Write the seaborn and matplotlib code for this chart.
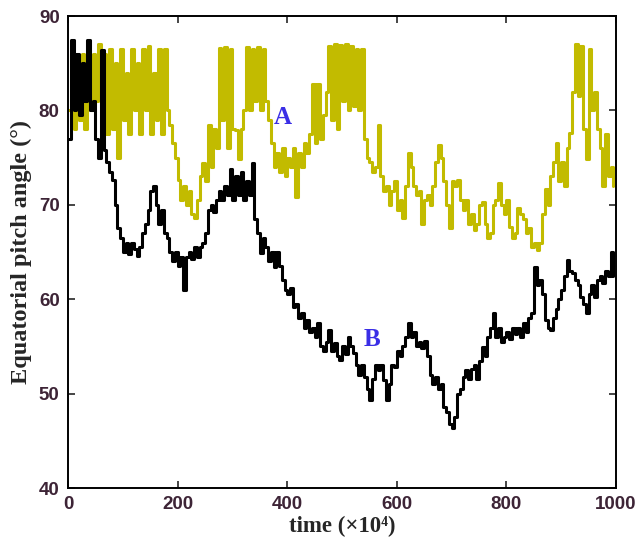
import numpy as np
import pandas as pd
import matplotlib
matplotlib.use("Agg")
import matplotlib.pyplot as plt
import seaborn as sns

# time axis (x10^4), step 5
time = list(range(0, 1000, 5))

# Series A (yellow)
series_a = [
    80, 86, 78, 85, 79, 86, 78, 84, 80,            # 0-40
    86, 81, 87, 82,                                # 45-60
    86, 77.5, 86.5, 78, 85, 75,                    # 65-90
    86.5, 79, 84, 77.5, 86.5, 80, 85, 77.5,        # 95-130
    86.5, 80, 86.8, 77.5, 84, 79, 86.5, 77.5, 86.5, 80,  # 135-180
    78.5, 76.5, 75,                                # 185-195
    72.6, 70.5, 72, 70, 71.5, 69, 68.6, 70.5, 73, 74.4,  # 200-245
    72.5, 78.5, 74, 78, 76,                        # 250-270
    86.6, 79, 86.7, 76, 86.5, 78, 77.9, 74.8, 78, 80,   # 275-320
    86.7, 80, 86.5, 81, 86.7, 80, 86.5, 81, 79, 76.5,   # 325-370
    74, 75.5, 73.5, 76, 73, 75, 74, 76, 70.8, 75.5,     # 375-420
    74, 76.5, 75.5, 77.5, 82.8, 76.5, 82.8, 77, 79.5, 82,  # 425-470
    86.8, 79, 87, 78, 86.9, 81, 87, 80, 86.8, 80.5, 86.5, 80, 86.5,  # 475-535
    77, 75, 74.5, 73.5, 74, 78.5, 73, 71.5, 72, 70,     # 540-585
    71.5, 72.5, 69.5, 70.5, 68.6, 72, 75.5, 74, 72, 71, # 590-635
    71.5, 68, 70.5, 71, 70, 72, 74.5, 76.3, 75, 72.5,   # 640-685
    70, 67.5, 72.5, 72, 72.6, 70.5, 69.5, 70.5, 68, 69, # 690-735
    67.3, 68, 70, 70.3, 68, 66.5, 67, 70, 70.5, 72.3,   # 740-785
    70, 69, 70.5, 67.6, 66.5, 67, 69.7, 69, 68.5, 67,   # 790-835
    67.5, 65.5, 66, 65.2, 66, 69, 71.7, 70, 73, 74.5,   # 840-885
    76.5, 72.5, 74.5, 72, 76, 77.6, 82, 87, 81.5, 86.8, # 890-935
    78, 74.8, 86.5, 80, 82, 78, 76, 72, 77.5, 73,       # 940-985
    74, 72,                                             # 990-995
]

# Series B (black)
series_b = [
    77, 87.5, 80, 86, 79.5, 85, 81, 87.5, 80, 81,       # 0-45
    77, 75, 86.4, 75.8, 74.5, 73.5, 72.6, 70, 67.5, 66.5,  # 50-95
    65, 66, 64.8, 66, 65.3, 64.6, 65.5, 67, 68, 69.5,   # 100-145
    71.5, 72, 70, 68, 69.5, 67, 66.5, 65, 64, 65,       # 150-195
    63.5, 64.5, 61.0, 64.5, 65, 64.3, 65.5, 64.5, 65.5, 66,  # 200-245
    67, 69.5, 70, 69.2, 70.5, 71.5, 70.5, 72, 71, 73.8, # 250-295
    70.5, 73, 71, 73.5, 70.5, 72.5, 71, 74.4, 68.5, 67, # 300-345
    64.9, 66.5, 65.5, 64, 65, 63.4, 65, 63.5, 62, 61,   # 350-395
    60.5, 61.2, 59.2, 59.5, 58, 58.5, 57, 57.8, 56.5, 57,  # 400-445
    56, 57.5, 55, 54.5, 55.5, 56.7, 54.5, 55.4, 54, 53.6,  # 450-495
    55, 54.2, 56, 55, 54.3, 53, 52, 53, 51.8, 50.5,     # 500-545
    49.3, 51.5, 53, 52.5, 53, 51.4, 49.3, 51, 53, 52.8, # 550-595
    54.5, 54, 55, 56, 57.5, 56, 56.5, 55, 55.5, 54.8,   # 600-645
    55.6, 54, 52, 51, 51.8, 50.5, 51, 48.6, 48, 46.8,   # 650-695
    46.4, 47.5, 50, 50.5, 51.8, 52.5, 51.5, 52.6, 53, 51.5,  # 700-745
    53.5, 54.9, 54, 56, 57, 58.5, 56, 57, 55.5, 56,     # 750-795
    56.5, 55.8, 57, 56.3, 57, 56, 57.5, 56.5, 58, 58.5, # 800-845
    63.4, 61.5, 62, 60.5, 57.8, 57, 56.7, 58, 59, 60,   # 850-895
    61, 62.5, 64.2, 63, 62.8, 62, 61.5, 60.2, 59.5, 58.5,  # 900-945
    60.5, 61.5, 60.2, 62, 62.5, 61.7, 63, 62.5, 65, 62.5,  # 950-995
]

x_ticks = [0, 200, 400, 600, 800, 1000]
y_ticks = [40, 50, 60, 70, 80, 90]

df = pd.DataFrame({"time": time, "A": series_a, "B": series_b})

sns.set_style("white")
plt.rcParams["font.family"] = ["Liberation Sans", "DejaVu Sans"]

fig = plt.figure(figsize=(6.36, 5.5), dpi=100)
ax = fig.add_axes([0.107, 0.1127, 0.8616, 0.8582])

sns.lineplot(data=df, x="time", y="A", ax=ax, color="#c2bb00", linewidth=2.2,
             estimator=None, sort=False, drawstyle="steps-post")
sns.lineplot(data=df, x="time", y="B", ax=ax, color="#000000", linewidth=2.2,
             estimator=None, sort=False, drawstyle="steps-post")

ax.set_xlim(0, 1000)
ax.set_ylim(40, 90)
ax.set_xticks(x_ticks)
ax.set_yticks(y_ticks)
lab_color = "#3d2436"
ax.set_xticklabels([str(v) for v in x_ticks], fontsize=13.5, fontweight="bold", color=lab_color)
ax.set_yticklabels([str(v) for v in y_ticks], fontsize=13.5, fontweight="bold", color=lab_color)
ax.tick_params(direction="in", length=5, width=1.2, top=True, right=True,
               bottom=True, left=True, pad=6)

for s in ax.spines.values():
    s.set_visible(True)
    s.set_color("#000000")
    s.set_linewidth(1.4)

serif = ["Liberation Serif", "DejaVu Serif"]
ax.set_xlabel("time (×10⁴)", fontsize=16.5, fontweight="bold", family=serif, labelpad=2)
ax.set_ylabel("Equatorial pitch angle (°)", fontsize=17.5, fontweight="bold", family=serif, labelpad=5)

ax.text(392, 79.3, "A", color="#3a2ee6", fontsize=18, fontweight="bold", family=serif,
        ha="center", va="center")
ax.text(555, 55.7, "B", color="#3a2ee6", fontsize=18, fontweight="bold", family=serif,
        ha="center", va="center")

fig.savefig("out.png", dpi=100)
